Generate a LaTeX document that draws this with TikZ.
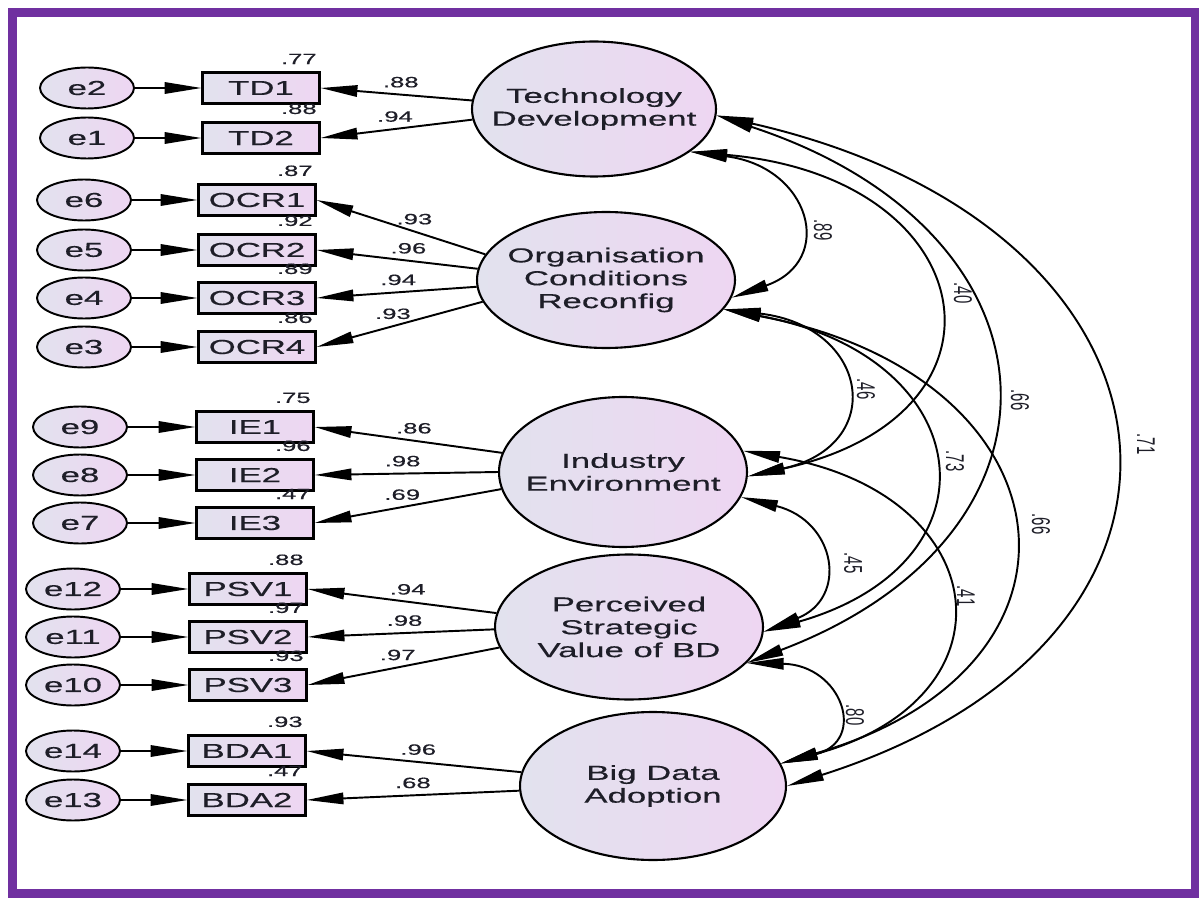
\documentclass[tikz,border=0pt]{standalone}
\usepackage{fontspec}
\setmainfont{Liberation Sans}
\newfontfamily\widesans[FakeStretch=1.72, FakeBold=0.4]{Liberation Sans}
\usetikzlibrary{arrows.meta, shapes.geometric}
\tikzset{every node/.append style={align=center}}
\usepackage{xcolor}
\definecolor{framepurple}{RGB}{112,48,160}
\definecolor{shadegrey}{RGB}{226,226,238}
\definecolor{shadepink}{RGB}{238,214,242}
\definecolor{inkgrey}{RGB}{30,30,40}

\tikzset{
  errvar/.style={ellipse, draw, line width=1.1pt, left color=shadegrey,
                 right color=shadepink, minimum width=1.88cm,
                 minimum height=0.82cm, inner sep=0pt, text=inkgrey,
                 font=\fontsize{11.5}{13}\widesans},
  indicator/.style={rectangle, draw, line width=1.2pt, left color=shadegrey,
                 right color=shadepink, minimum width=2.34cm,
                 minimum height=0.62cm, inner sep=0pt, text=inkgrey,
                 font=\fontsize{11.5}{13}\widesans},
  latent/.style={ellipse, draw, line width=1.2pt, left color=shadegrey,
                 right color=shadepink, inner sep=0pt},
  lattext/.style={font=\fontsize{11.5}{13}\widesans, text=inkgrey, align=center},
  varlbl/.style={font=\fontsize{8.5}{9}\widesans, text=inkgrey, inner sep=0pt,
                 anchor=south east, xshift=-2pt, yshift=4pt},
  loadlbl/.style={font=\fontsize{8.5}{9}\widesans, text=inkgrey, inner sep=0pt,
                  above=3.5pt},
  covlbl/.style={font=\fontsize{8.5}{9}\selectfont, text=inkgrey, xscale=1.72,
                 rotate=-90, inner sep=0pt},
  onehead/.style={-{Triangle[length=21pt,width=6.5pt]}, line width=1.1pt},
  twohead/.style={{Triangle[length=21pt,width=6.5pt]}-{Triangle[length=21pt,width=6.5pt]},
                  line width=1.1pt}
}

\begin{document}
\begin{tikzpicture}[x=0.02cm, y=0.02cm]

\useasboundingbox (0,0) rectangle (1199,-898);
\fill[white] (0,0) rectangle (1199,-898);

% ── Latent factors ───────────────────────────────────────────────────────────
\node[latent, minimum width=4.88cm, minimum height=2.70cm,
      label={[lattext]center:Technology\\Development}] (TD) at (594,-109) {};
\node[latent, minimum width=5.16cm, minimum height=2.72cm,
      label={[lattext]center:Organisation\\Conditions\\Reconfig}] (OCR) at (606,-280) {};
\node[latent, minimum width=4.96cm, minimum height=3.00cm,
      label={[lattext]center:Industry\\Environment}] (IE) at (623,-472) {};
\node[latent, minimum width=5.36cm, minimum height=2.90cm,
      label={[lattext]center:Perceived\\Strategic\\Value of BD}] (PSV) at (629,-627) {};
\node[latent, minimum width=5.32cm, minimum height=2.96cm,
      label={[lattext]center:Big Data\\Adoption}] (BDA) at (653,-786) {};

% ── Indicators and error terms ───────────────────────────────────────────────
\foreach \nm/\ee/\bx/\ex/\y/\vr in {
    TD1/e2/261/87/88/.77,    TD2/e1/261/87/138/.88,
    OCR1/e6/257/84/200/.87,  OCR2/e5/257/84/250/.92,
    OCR3/e4/257/84/298/.89,  OCR4/e3/257/84/347/.86,
    IE1/e9/255/80/427/.75,   IE2/e8/255/80/475/.96,   IE3/e7/255/80/523/.47,
    PSV1/e12/248/73/589/.88, PSV2/e11/248/73/637/.97, PSV3/e10/248/73/685/.93,
    BDA1/e14/247/73/751/.93, BDA2/e13/247/73/800/.47} {
  \node[indicator, label={[varlbl]north east:\vr}] (\nm) at (\bx,-\y) {\nm};
  \node[errvar] (\ee) at (\ex,-\y) {\ee};
  \draw[onehead] (\ee) -- (\nm);
}

% ── Factor loadings ──────────────────────────────────────────────────────────
\foreach \fc/\ang/\nm/\p/\ld in {
    TD/176/TD1/0.47/.88,   TD/185/TD2/0.51/.94,
    OCR/168/OCR1/0.42/.93, OCR/175/OCR2/0.43/.96,
    OCR/183/OCR3/0.49/.94, OCR/190/OCR4/0.54/.93,
    IE/171/IE1/0.47/.86,   IE/180/IE2/0.52/.98,   IE/188/IE3/0.53/.69,
    PSV/174/PSV1/0.47/.94, PSV/181/PSV2/0.48/.98, PSV/189/PSV3/0.53/.97,
    BDA/174/BDA1/0.48/.96, BDA/182/BDA2/0.50/.68} {
  \draw[onehead] (\fc.\ang) -- (\nm.east) node[loadlbl, pos=\p] {\ld};
}

% ── Covariances ──────────────────────────────────────────────────────────────
\draw[twohead] (TD.336) .. controls +(120,-15) and +(105,37) .. (OCR.352);
\draw[twohead] (TD.336) .. controls +(294,-25) and +(279,61) .. (IE.358);
\draw[twohead] (TD.357) .. controls +(354,-116) and +(340,129) .. (PSV.343);
\draw[twohead] (TD.357) .. controls +(491,-112) and +(465,148) .. (BDA.0);
\draw[twohead] (OCR.346) .. controls +(146,-17) and +(140,31) .. (IE.358);
\draw[twohead] (OCR.346) .. controls +(256,-47) and +(241,69) .. (PSV.358);
\draw[twohead] (OCR.346) .. controls +(352,-66) and +(332,96) .. (BDA.10);
\draw[twohead] (IE.348) .. controls +(95,-24) and +(85,34) .. (PSV.358);
\draw[twohead] (IE.10) .. controls +(253,-43) and +(239,65) .. (BDA.10);
\draw[twohead] (PSV.343) .. controls +(95,-2) and +(87,23) .. (BDA.10);

% correlation values
\foreach \v/\x/\y [count=\i] in {.89/823/230, .40/963/293, .46/866/389,
    .66/1020/400, .73/955/461, .71/1146/444, .66/1041/524, .45/853/563,
    .41/966/596, .80/855/715} {
  \node[covlbl] (cov\i) at (\x,-\y) {\v};
}

% ── Frame ────────────────────────────────────────────────────────────────────
\draw[framepurple, line width=4.6pt] (12.5,-12.5) rectangle (1195.5,-893.5);

\end{tikzpicture}
\end{document}
